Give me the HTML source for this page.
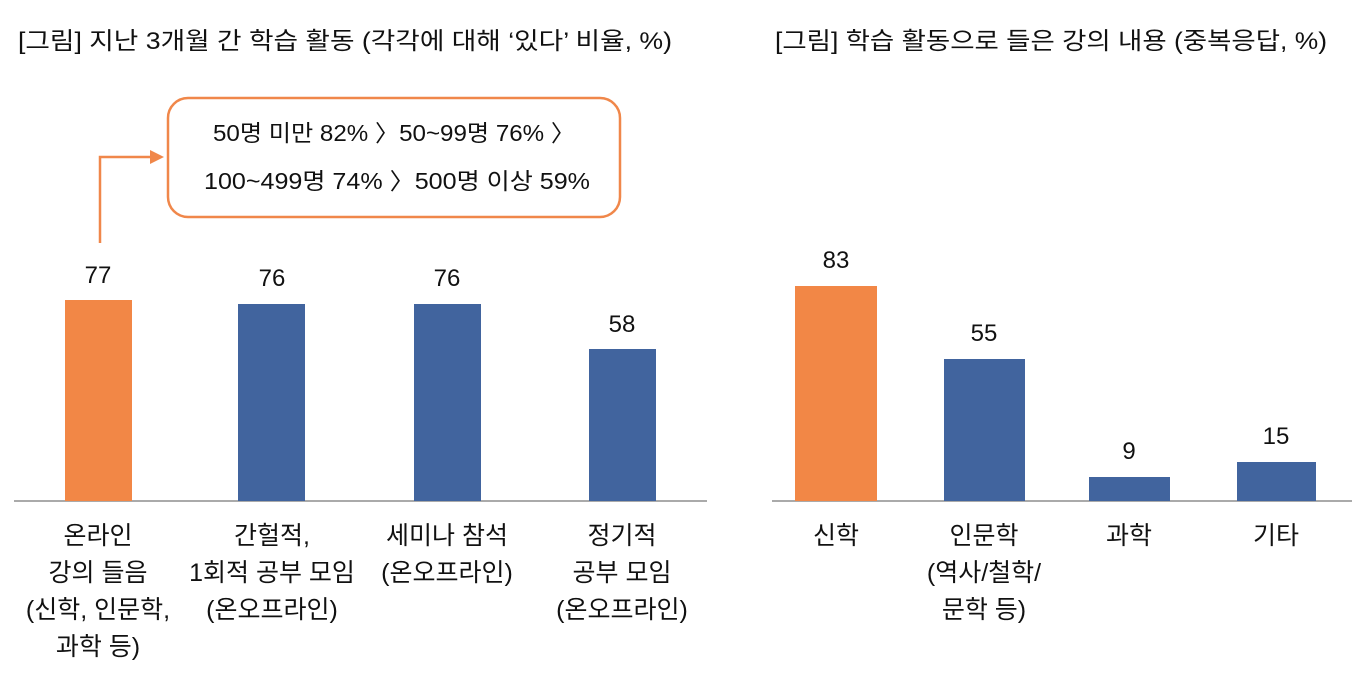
<!DOCTYPE html>
<html><head><meta charset="utf-8"><style>
body{margin:0;background:#fff;}
svg text{font-family:"Liberation Sans","Noto Sans CJK KR",sans-serif;fill:#111;}
</style></head><body>
<svg width="1370" height="684" xmlns="http://www.w3.org/2000/svg">
<text x="18" y="49" font-size="24" textLength="654" lengthAdjust="spacingAndGlyphs">[그림] 지난 3개월 간 학습 활동 (각각에 대해 ‘있다’ 비율, %)</text>
<text x="775" y="49" font-size="24" textLength="552" lengthAdjust="spacingAndGlyphs">[그림] 학습 활동으로 들은 강의 내용 (중복응답, %)</text>
<rect x="168" y="98" width="452" height="119" rx="20" fill="#fff" stroke="#f0874a" stroke-width="2.5"/>
<text x="213" y="141" font-size="23" textLength="362" lengthAdjust="spacingAndGlyphs">50명 미만 82% 〉50~99명 76% 〉</text>
<text x="204" y="189" font-size="23" textLength="386" lengthAdjust="spacingAndGlyphs">100~499명 74% 〉500명 이상 59%</text>
<polyline points="100,243 100,157 152,157" fill="none" stroke="#f0874a" stroke-width="2.5"/>
<polygon points="164,157 150,150 150,164" fill="#f0874a"/>
<line x1="14" y1="501" x2="707" y2="501" stroke="#aaa" stroke-width="2"/>
<line x1="772" y1="501" x2="1352" y2="501" stroke="#aaa" stroke-width="2"/>
<rect x="65" y="300" width="67" height="201" fill="#f28746"/>
<rect x="238" y="304" width="67" height="197" fill="#41649e"/>
<rect x="414" y="304" width="67" height="197" fill="#41649e"/>
<rect x="589" y="349" width="67" height="152" fill="#41649e"/>
<rect x="795" y="286" width="82" height="215" fill="#f28746"/>
<rect x="944" y="359" width="81" height="142" fill="#41649e"/>
<rect x="1089" y="477" width="81" height="24" fill="#41649e"/>
<rect x="1237" y="462" width="79" height="39" fill="#41649e"/>
<g font-size="24" text-anchor="middle">
<text x="98" y="283">77</text><text x="272" y="286">76</text><text x="447" y="286">76</text><text x="622" y="332">58</text>
<text x="836" y="268">83</text><text x="984" y="341">55</text><text x="1129" y="459">9</text><text x="1276" y="444">15</text>
</g>
<g font-size="25" text-anchor="middle">
<text x="98" y="544">온라인</text><text x="98" y="581">강의 들음</text><text x="98" y="618">(신학, 인문학,</text><text x="98" y="655">과학 등)</text>
<text x="272" y="544">간헐적,</text><text x="272" y="581">1회적 공부 모임</text><text x="272" y="618">(온오프라인)</text>
<text x="447" y="544">세미나 참석</text><text x="447" y="581">(온오프라인)</text>
<text x="622" y="544">정기적</text><text x="622" y="581">공부 모임</text><text x="622" y="618">(온오프라인)</text>
<text x="836" y="544">신학</text>
<text x="984" y="544">인문학</text><text x="984" y="581">(역사/철학/</text><text x="984" y="618">문학 등)</text>
<text x="1129" y="544">과학</text>
<text x="1276" y="544">기타</text>
</g>
</svg>
</body></html>
